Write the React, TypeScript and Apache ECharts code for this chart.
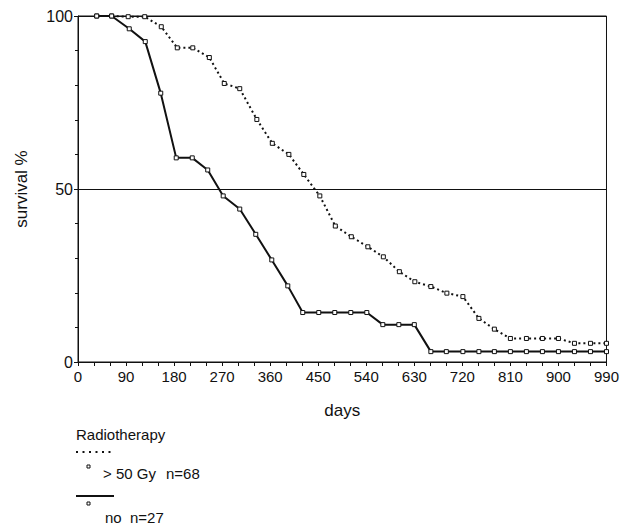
import React, { useEffect, useRef } from "react";
import * as echarts from "echarts";

// ---- data ----
const legendTitle = "Radiotherapy";
const groupLabels = ["> 50 Gy", "no"];
const groupN = ["n=68", "n=27"];

const highDays = [35, 63, 94, 125, 156, 186, 215, 246, 274, 303, 335, 364, 395, 423, 453, 482, 512, 543, 572, 602, 631, 661, 691, 721, 751, 780, 810, 840, 870, 900, 930, 960, 990];
const highSurv = [100, 100, 99.8, 99.8, 96.9, 90.8, 90.8, 88, 80.5, 79, 70.1, 63.2, 60, 54.2, 48, 39.3, 36.2, 33.3, 30.4, 26.1, 23.2, 21.8, 19.9, 18.9, 12.6, 9.5, 6.8, 6.8, 6.8, 6.8, 5.4, 5.4, 5.4];

const noDays = [35, 63, 96, 126, 155, 184, 214, 243, 272, 303, 333, 363, 393, 421, 451, 481, 511, 541, 571, 601, 630, 661, 690, 721, 751, 780, 810, 840, 870, 900, 930, 960, 990];
const noSurv = [100, 100, 96.3, 92.6, 77.7, 59, 59, 55.5, 48, 44.2, 36.9, 29.5, 22, 14.3, 14.3, 14.3, 14.3, 14.3, 10.8, 10.8, 10.8, 3, 3, 3, 3, 3, 3, 3, 3, 3, 3, 3, 3];

const xMin = 0;
const xMax = 990;
const xInterval = 90;
const yMin = 0;
const yMax = 100;
const yInterval = 50;
const xName = "days";
const yName = "survival %";

const FONT = "'Liberation Sans', Arial, sans-serif";
const INK = "#111";

export default function App() {
  const ref = useRef<HTMLDivElement>(null);

  useEffect(() => {
    document.body.style.margin = "0";
    if (!ref.current) return;
    const chart = echarts.init(ref.current, null, { renderer: "svg" });

    const pairs = (d: number[], v: number[]) => d.map((x, i) => [x, v[i]]);

    const markerStyle = {
      color: "#fff",
      borderColor: INK,
      borderWidth: 1,
    };

    const legendText = (text: string, x: number, y: number) => ({
      type: "text",
      style: {
        text,
        x,
        y,
        font: `15px ${FONT}`,
        fill: INK,
        textVerticalAlign: "middle",
        verticalAlign: "middle",
      },
    });

    chart.setOption({
      animation: false,
      backgroundColor: "#fff",
      grid: {
        left: 78,
        right: 13,
        top: 16,
        bottom: 163,
        show: true,
        borderColor: INK,
        borderWidth: 1,
      },
      xAxis: {
        type: "value",
        min: xMin,
        max: xMax,
        interval: xInterval,
        name: xName,
        nameLocation: "middle",
        nameGap: 40,
        nameTextStyle: { fontFamily: FONT, fontSize: 17, color: INK },
        axisLine: { show: true, lineStyle: { color: INK, width: 1 } },
        axisTick: { show: true, length: 4, lineStyle: { color: INK } },
        minorTick: { show: true, splitNumber: 3, length: 4, lineStyle: { color: INK } },
        splitLine: { show: false },
        axisLabel: { fontFamily: FONT, fontSize: 15, color: INK, margin: 7 },
      },
      yAxis: {
        type: "value",
        min: yMin,
        max: yMax,
        interval: yInterval,
        name: yName,
        nameLocation: "middle",
        nameRotate: 90,
        nameGap: 48,
        nameTextStyle: { fontFamily: FONT, fontSize: 17, color: INK },
        axisLine: { show: true, lineStyle: { color: INK, width: 1 } },
        axisTick: { show: true, length: 4, lineStyle: { color: INK } },
        minorTick: { show: true, splitNumber: 5, length: 3, lineStyle: { color: INK } },
        splitLine: { show: true, lineStyle: { color: INK, width: 1 } },
        axisLabel: { fontFamily: FONT, fontSize: 16, color: INK, margin: 5 },
      },
      series: [
        {
          name: groupLabels[1],
          type: "line",
          data: pairs(noDays, noSurv),
          symbol: "rect",
          symbolSize: 4,
          showAllSymbol: true,
          lineStyle: { color: INK, width: 2 },
          itemStyle: markerStyle,
        },
        {
          name: groupLabels[0],
          type: "line",
          data: pairs(highDays, highSurv),
          symbol: "rect",
          symbolSize: 4,
          showAllSymbol: true,
          lineStyle: { color: INK, width: 2, type: [2, 3] },
          itemStyle: markerStyle,
        },
      ],
      graphic: [
        legendText(legendTitle, 76, 434),
        {
          type: "line",
          shape: { x1: 76, y1: 452, x2: 113, y2: 452 },
          style: { stroke: INK, lineWidth: 2, lineDash: [2, 4.5] },
        },
        {
          type: "rect",
          shape: { x: 87, y: 465, width: 3, height: 3 },
          style: { fill: "#fff", stroke: INK, lineWidth: 1 },
        },
        legendText(groupLabels[0], 103, 473),
        legendText(groupN[0], 166, 473),
        {
          type: "line",
          shape: { x1: 76, y1: 496, x2: 114, y2: 496 },
          style: { stroke: INK, lineWidth: 2 },
        },
        {
          type: "rect",
          shape: { x: 87, y: 502, width: 3, height: 3 },
          style: { fill: "#fff", stroke: INK, lineWidth: 1 },
        },
        legendText(groupLabels[1], 105, 517),
        legendText(groupN[1], 130, 517),
      ],
    });

    return () => chart.dispose();
  }, []);

  return <div ref={ref} style={{ width: 622, height: 525 }} />;
}
